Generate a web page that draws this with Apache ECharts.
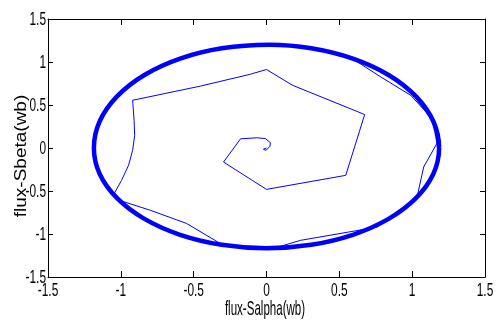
<!DOCTYPE html>
<html>
<head>
<meta charset="utf-8">
<script src="https://cdn.jsdelivr.net/npm/echarts@6/dist/echarts.min.js"></script>
<style>
  html, body { margin: 0; padding: 0; background: #fff; }
  #main { width: 497px; height: 324px; }
</style>
</head>
<body>
<div id="main"></div>
<script>
// Axis ticks and their labels
const xTicks = [-1.5, -1, -0.5, 0, 0.5, 1, 1.5];
const yTicks = [-1.5, -1, -0.5, 0, 0.5, 1, 1.5];
const xTickLabels = ['-1.5', '-1', '-0.5', '0', '0.5', '1', '1.5'];
const yTickLabels = ['-1.5', '-1', '-0.5', '0', '0.5', '1', '1.5'];
const xName = 'flux-Salpha(wb)';
const yName = 'flux-Sbeta(wb)';

// Steady-state stator flux locus (closed ring, runs a little past the start)
const ringX = [1.185, 1.145, 1.026, 0.838, 0.593, 0.307, 0.02, -0.307, -0.593, -0.838, -1.026, -1.145, -1.185,
               -1.145, -1.026, -0.838, -0.593, -0.307, 0.0, 0.307, 0.593, 0.838, 1.026, 1.145, 1.185, 1.145, 1.026];
const ringY = [0.0, 0.311, 0.600, 0.849, 1.039, 1.159, 1.200, 1.159, 1.039, 0.849, 0.600, 0.311, 0.0,
               -0.302, -0.583, -0.824, -1.009, -1.125, -1.165, -1.125, -1.009, -0.824, -0.583, -0.302, 0.0, 0.311, 0.600];

// Start-up transient: small curl at the origin, growing polygon, then chords onto the ring
const pathX = [0.0, -0.021, -0.003, 0.024, 0.027, -0.007, -0.062, -0.178, -0.295, -0.098, 0.0, 0.544, 0.674,
               0.178, 0.0, -0.110, -0.453, -0.919, -0.909, -0.905, -0.919, -0.947, -0.995, -1.049, -1.029,
               -0.796, -0.549, -0.295, -0.144, 0.048, 0.233, 0.759, 0.91, 1.036, 1.079, 1.182, 1.16, 0.990, 0.784, 0.624];
const pathY = [0.0, -0.015, -0.027, 0.020, 0.061, 0.109, 0.119, 0.107, -0.163, -0.376, -0.481, -0.318, 0.389,
               0.730, 0.913, 0.858, 0.720, 0.555, 0.322, 0.148, -0.027, -0.201, -0.376, -0.539, -0.598,
               -0.725, -0.877, -1.133, -1.168, -1.168, -1.074, -0.920, -0.75, -0.551, -0.221, 0.090, 0.30, 0.613, 0.827, 1.001];

const pairs = (xs, ys) => xs.map((x, i) => [x, ys[i]]);

const chart = echarts.init(document.getElementById('main'), null, { renderer: 'canvas' });

const axisCommon = {
  type: 'value',
  min: -1.5,
  max: 1.5,
  interval: 0.5,
  axisLine: { show: true, onZero: false, lineStyle: { color: '#000', width: 1 } },
  axisLabel: { show: false },
  splitLine: { show: false }
};

chart.setOption({
  animation: false,
  backgroundColor: '#fff',
  grid: { left: 48, right: 12, top: 19, bottom: 47 },
  xAxis: [
    Object.assign({}, axisCommon, { position: 'bottom', axisTick: { inside: true, length: 6, lineStyle: { color: '#000' } } }),
    Object.assign({}, axisCommon, { position: 'top', axisTick: { inside: true, length: 6, lineStyle: { color: '#000' } } })
  ],
  yAxis: [
    Object.assign({}, axisCommon, { position: 'left', axisTick: { inside: true, length: 5, lineStyle: { color: '#000' } } }),
    Object.assign({}, axisCommon, { position: 'right', axisTick: { inside: true, length: 5, lineStyle: { color: '#000' } } })
  ],
  series: [
    {
      type: 'line',
      data: pairs(ringX, ringY),
      smooth: 0.35,
      showSymbol: false,
      lineStyle: { color: '#0000ff', width: 4.5 },
      z: 3
    },
    {
      type: 'line',
      data: pairs(pathX, pathY),
      smooth: false,
      showSymbol: false,
      lineStyle: { color: '#0000ff', width: 1 },
      z: 2
    }
  ]
});

// Condensed tick labels and axis titles, placed through the axis scales
const labelFont = '17.5px "Liberation Sans", Arial, sans-serif';
const graphics = [];
xTicks.forEach((v, i) => {
  const px = chart.convertToPixel({ xAxisIndex: 0 }, v);
  graphics.push({
    type: 'text', x: px, y: 291, scaleX: 0.68,
    style: { text: xTickLabels[i], font: labelFont, fill: '#000', textAlign: 'center', textVerticalAlign: 'middle' }
  });
});
yTicks.forEach((v, i) => {
  const py = chart.convertToPixel({ yAxisIndex: 0 }, v);
  graphics.push({
    type: 'text', x: 46, y: py + 1, scaleX: 0.68,
    style: { text: yTickLabels[i], font: labelFont, fill: '#000', textAlign: 'right', textVerticalAlign: 'middle' }
  });
});
graphics.push({
  type: 'text', x: 265, y: 309, scaleX: 0.55,
  style: { text: xName, font: '21px "Liberation Sans", Arial, sans-serif', fill: '#000', textAlign: 'center', textVerticalAlign: 'middle' }
});
graphics.push({
  type: 'text', x: 21.5, y: 156, rotation: Math.PI / 2, scaleY: 0.85,
  style: { text: yName, font: '19px "Liberation Sans", Arial, sans-serif', fill: '#000', textAlign: 'center', textVerticalAlign: 'middle' }
});
chart.setOption({ graphic: { elements: graphics } });
</script>
</body>
</html>
